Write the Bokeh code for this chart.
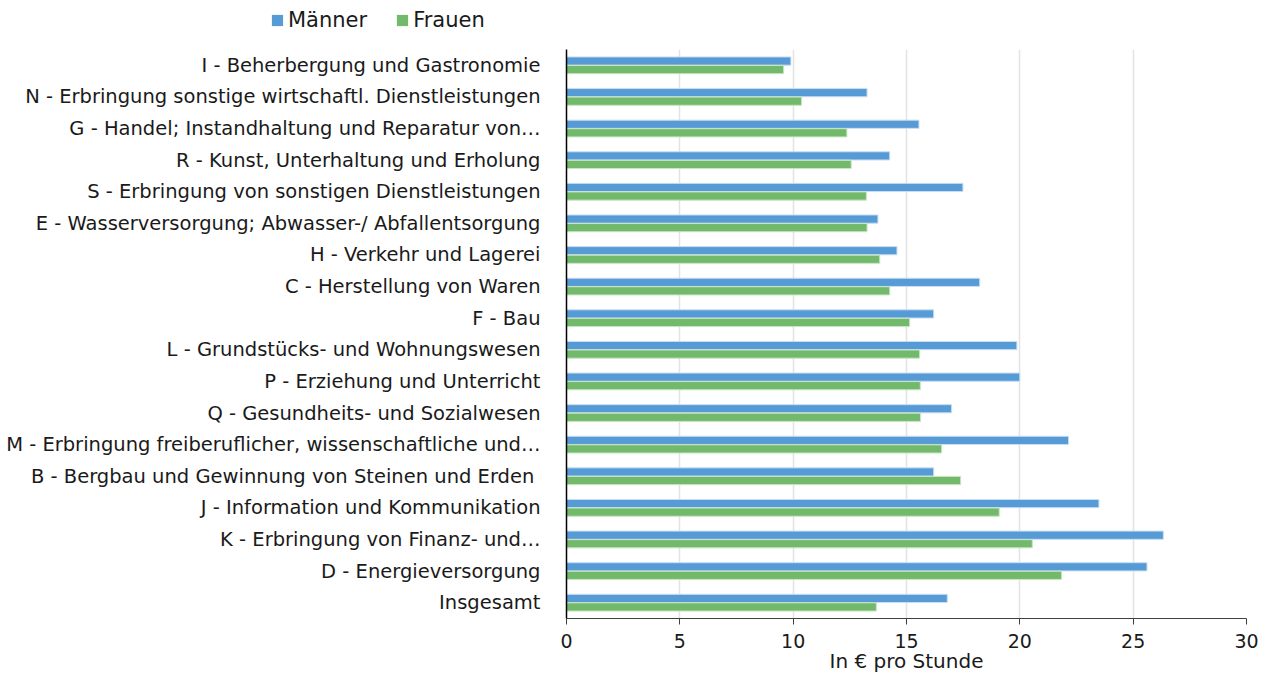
from bokeh.plotting import figure
from bokeh.models import ColumnDataSource, FactorRange, Range1d, Legend, LegendItem, FixedTicker
from bokeh.transform import dodge
from bokeh.embed import file_html
from bokeh.resources import INLINE

categories = [
    "I - Beherbergung und Gastronomie",
    "N - Erbringung sonstige wirtschaftl. Dienstleistungen",
    "G - Handel; Instandhaltung und Reparatur von\u2026",
    "R - Kunst, Unterhaltung und Erholung",
    "S - Erbringung von sonstigen Dienstleistungen",
    "E - Wasserversorgung; Abwasser-/ Abfallentsorgung",
    "H - Verkehr und Lagerei",
    "C - Herstellung von Waren",
    "F - Bau",
    "L - Grundst\u00fccks- und Wohnungswesen",
    "P - Erziehung und Unterricht",
    "Q - Gesundheits- und Sozialwesen",
    "M - Erbringung freiberuflicher, wissenschaftliche und\u2026",
    "B - Bergbau und Gewinnung von Steinen und Erden ",
    "J - Information und Kommunikation",
    "K - Erbringung von Finanz- und\u2026",
    "D - Energieversorgung",
    "Insgesamt",
]
maenner = [9.90, 13.26, 15.55, 14.26, 17.49, 13.74, 14.58, 18.23, 16.20, 19.87,
           20.00, 16.99, 22.15, 16.20, 23.49, 26.33, 25.61, 16.80]
frauen = [9.58, 10.37, 12.37, 12.56, 13.23, 13.26, 13.82, 14.26, 15.14, 15.58,
          15.61, 15.62, 16.55, 17.39, 19.09, 20.55, 21.84, 13.67]
series_names = ["M\u00e4nner", "Frauen"]
x_ticks = [0, 5, 10, 15, 20, 25, 30]
x_label = "In \u20ac pro Stunde"

FONT = "DejaVu Sans"
TXT = "#1a1a1a"
BLUE = "#569bd6"
GREEN = "#72b96c"
W = 1261
LG_H = 40

source = ColumnDataSource(dict(cat=categories, m=maenner, f=frauen))

p = figure(
    y_range=FactorRange(factors=categories[::-1]),
    x_range=Range1d(0, 30),
    width=W, height=677 - LG_H,
    output_backend="svg", toolbar_location=None,
    min_border_left=566, min_border_right=15,
    min_border_top=9, min_border_bottom=59,
)
p.outline_line_color = None
p.background_fill_color = "white"

rm = p.hbar(y=dodge("cat", 0.135, range=p.y_range), left=0, right="m", height=0.26,
            source=source, fill_color=BLUE, line_color="#c9def2", line_width=1)
rf = p.hbar(y=dodge("cat", -0.135, range=p.y_range), left=0, right="f", height=0.26,
            source=source, fill_color=GREEN, line_color="#c8e6c4", line_width=1)

# axes
p.ygrid.grid_line_color = None
p.xgrid.grid_line_color = "#e3e3e3"
p.xgrid.grid_line_width = 1.5
p.xaxis.ticker = FixedTicker(ticks=x_ticks)
p.xaxis.axis_line_color = "#404040"
p.xaxis.major_tick_line_color = "#404040"
p.xaxis.major_tick_out = 6
p.xaxis.major_tick_in = 0
p.xaxis.minor_tick_line_color = None
p.xaxis.major_label_text_font = FONT
p.xaxis.major_label_text_font_size = "19px"
p.xaxis.major_label_text_color = TXT
p.xaxis.major_label_standoff = 9
p.xaxis.axis_label = x_label
p.xaxis.axis_label_text_font = FONT
p.xaxis.axis_label_text_font_size = "20px"
p.xaxis.axis_label_text_font_style = "normal"
p.xaxis.axis_label_text_color = TXT
p.xaxis.axis_label_standoff = -2

p.yaxis.axis_line_color = "black"
p.yaxis.axis_line_width = 1.5
p.yaxis.major_tick_line_color = None
p.yaxis.minor_tick_line_color = None
p.yaxis.major_label_text_font = FONT
p.yaxis.major_label_text_font_size = "19.5px"
p.yaxis.major_label_text_color = TXT
p.yaxis.major_label_standoff = 20

# legend strip (separate root, placed above the chart)
lg = figure(width=W, height=LG_H, x_range=Range1d(0, 1), y_range=Range1d(0, 1),
            x_axis_location=None, y_axis_location=None,
            output_backend="svg", toolbar_location=None,
            min_border_left=0, min_border_right=0, min_border_top=0, min_border_bottom=0)
lg.grid.visible = False
lg.outline_line_color = None
dummy = ColumnDataSource(dict(y=[-10], r=[-5]))
dm = lg.hbar(y="y", right="r", left=-6, height=0.5, source=dummy, fill_color=BLUE, line_color=None)
df = lg.hbar(y="y", right="r", left=-6, height=0.5, source=dummy, fill_color=GREEN, line_color=None)
legend = Legend(
    items=[LegendItem(label=series_names[0], renderers=[dm]),
           LegendItem(label=series_names[1], renderers=[df])],
    orientation="horizontal",
    location=(270, 8),
    padding=0, margin=0, spacing=28,
    glyph_width=14, glyph_height=14, label_standoff=4,
    label_text_font=FONT, label_text_font_size="21px", label_text_color=TXT,
    border_line_color=None, background_fill_alpha=0,
)
lg.add_layout(legend, "center")

open("out.html", "w").write(file_html([lg, p], INLINE))
